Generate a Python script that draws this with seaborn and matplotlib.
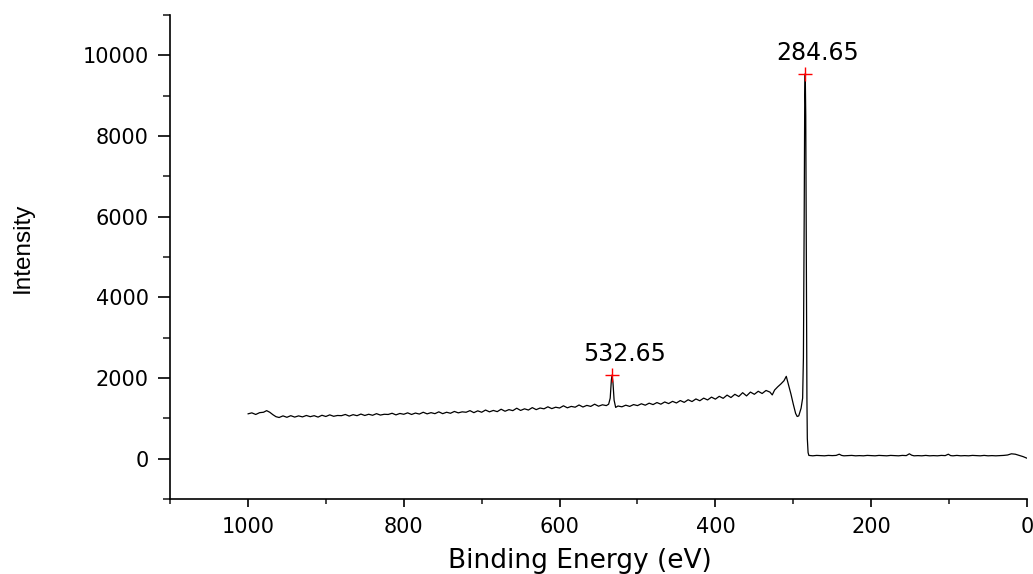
import matplotlib
matplotlib.use("Agg")
import matplotlib.pyplot as plt
import seaborn as sns
import pandas as pd
from matplotlib.ticker import MultipleLocator

# XPS survey spectrum
binding_energy = [
    1000, 995, 990, 985, 980, 976, 972, 968, 964, 960, 955, 950, 945, 940, 935, 930,
    925, 920, 915, 910, 905, 900, 895, 890, 885, 880, 875, 870, 865, 860, 855, 850,
    845, 840, 835, 830, 825, 820, 815, 810, 805, 800, 795, 790, 785, 780, 775, 770,
    765, 760, 755, 750, 745, 740, 735, 730, 725, 720, 715, 710, 705, 700, 695, 690,
    685, 680, 675, 670, 665, 660, 655, 650, 645, 640, 635, 630, 625, 620, 615, 610,
    605, 600, 595, 590, 585, 580, 575, 570, 565, 560, 555, 550, 545, 540, 537, 535,
    533.5, 532.65, 531.5, 530, 528, 525, 520, 515, 510, 505, 500, 495, 490, 485, 480,
    475, 470, 465, 460, 455, 450, 445, 440, 435, 430, 425, 420, 415, 410, 405, 400,
    395, 390, 385, 380, 375, 370, 365, 360, 355, 350, 345, 340, 335, 330, 327, 324,
    320, 316, 312, 309, 306, 303, 300, 297, 295, 293, 290, 288, 287, 286, 285.3,
    284.65, 284, 283.3, 282.5, 282, 281, 280, 275, 270, 265, 260, 255, 250, 245, 241,
    238, 235, 230, 225, 220, 215, 210, 205, 200, 195, 190, 185, 180, 175, 170, 165,
    160, 155, 151, 148, 145, 140, 135, 130, 125, 120, 115, 110, 105, 101, 98, 95, 90,
    85, 80, 75, 70, 65, 60, 55, 50, 45, 40, 35, 30, 25, 20, 15, 10, 5, 0,
]
intensity = [
    1110, 1135, 1095, 1140, 1150, 1190, 1150, 1090, 1040, 1020, 1060, 1025, 1065, 1030, 1060, 1035,
    1070, 1040, 1065, 1030, 1075, 1045, 1085, 1050, 1070, 1065, 1095, 1055, 1090, 1065, 1105, 1070,
    1100, 1075, 1115, 1080, 1100, 1095, 1125, 1085, 1120, 1100, 1135, 1095, 1130, 1105, 1150, 1110,
    1140, 1115, 1160, 1115, 1150, 1125, 1170, 1135, 1160, 1150, 1190, 1140, 1185, 1150, 1205, 1160,
    1195, 1165, 1225, 1175, 1215, 1190, 1250, 1195, 1235, 1205, 1265, 1215, 1255, 1235, 1285, 1240,
    1275, 1255, 1310, 1260, 1295, 1275, 1330, 1280, 1320, 1295, 1350, 1300, 1335, 1315, 1350, 1500,
    1950, 2070, 1900, 1450, 1270, 1305, 1285, 1325, 1295, 1340, 1315, 1360, 1325, 1375, 1340,
    1390, 1350, 1405, 1365, 1420, 1380, 1440, 1395, 1460, 1415, 1480, 1435, 1500, 1455, 1525, 1475,
    1545, 1495, 1575, 1515, 1595, 1540, 1635, 1555, 1650, 1595, 1670, 1615, 1690, 1650, 1580, 1700,
    1780, 1850, 1930, 2040, 1820, 1600, 1350, 1120, 1045, 1060, 1250, 1500, 2500, 6000, 9000,
    9540, 8500, 5000, 1500, 500, 150, 80, 70, 80, 75, 70, 80, 75, 80, 110,
    80, 70, 75, 80, 70, 75, 70, 80, 75, 70, 80, 75, 70, 80, 75, 70,
    80, 75, 120, 85, 70, 75, 70, 80, 70, 75, 70, 80, 75, 110, 75, 70, 80,
    70, 75, 70, 80, 75, 70, 80, 70, 75, 70, 75, 80, 90, 120, 110, 80, 50, 10,
]

peak_energy = [532.65, 284.65]
peak_intensity = [2070, 9540]
peak_labels = ["532.65", "284.65"]

df = pd.DataFrame({"Binding Energy (eV)": binding_energy, "Intensity": intensity})
peaks = pd.DataFrame({"x": peak_energy, "y": peak_intensity})

sns.set_theme(style="ticks")
plt.rcParams["font.family"] = ["DejaVu Sans"]

fig = plt.figure(figsize=(10.33, 5.74), dpi=100)
ax = fig.add_axes([0.1646, 0.1307, 0.8296, 0.8433])

sns.lineplot(data=df, x="Binding Energy (eV)", y="Intensity", sort=False,
             estimator=None, color="black", linewidth=0.9, ax=ax)
sns.scatterplot(data=peaks, x="x", y="y", marker="+", color="red", s=90,
                linewidth=1.0, ax=ax, zorder=5)

for px, py, lab in zip(peak_energy, peak_intensity, peak_labels):
    ax.annotate(lab, (px, py), xytext=(9, 15), textcoords="offset points",
                ha="center", va="center", fontsize=17, color="black")

ax.set_xlim(1100, 0)
ax.set_ylim(-1000, 11000)
ax.xaxis.set_major_locator(MultipleLocator(200))
ax.xaxis.set_minor_locator(MultipleLocator(100))
ax.yaxis.set_major_locator(MultipleLocator(2000))
ax.yaxis.set_minor_locator(MultipleLocator(1000))

sns.despine(ax=ax)
for s in ["left", "bottom"]:
    ax.spines[s].set_linewidth(1.2)
    ax.spines[s].set_color("black")

ax.tick_params(axis="x", which="major", length=6, width=1.2, pad=7, labelsize=15, colors="black")
ax.tick_params(axis="x", which="minor", length=3.5, width=1.2)
ax.tick_params(axis="y", which="major", length=8.5, width=1.2, pad=7, labelsize=15, colors="black")
ax.tick_params(axis="y", which="minor", length=5, width=1.2)

ax.set_xlabel("Binding Energy (eV)", fontsize=19, color="black")
ax.xaxis.set_label_coords(0.478, -0.128)
ax.xaxis.label.set_va("center")
ax.set_ylabel("Intensity", fontsize=17.5, color="black",
              family=["Liberation Sans", "DejaVu Sans"])
ax.yaxis.set_label_coords(-0.1715, 0.519)
ax.yaxis.label.set_va("center")

fig.savefig("out.png", dpi=100)
